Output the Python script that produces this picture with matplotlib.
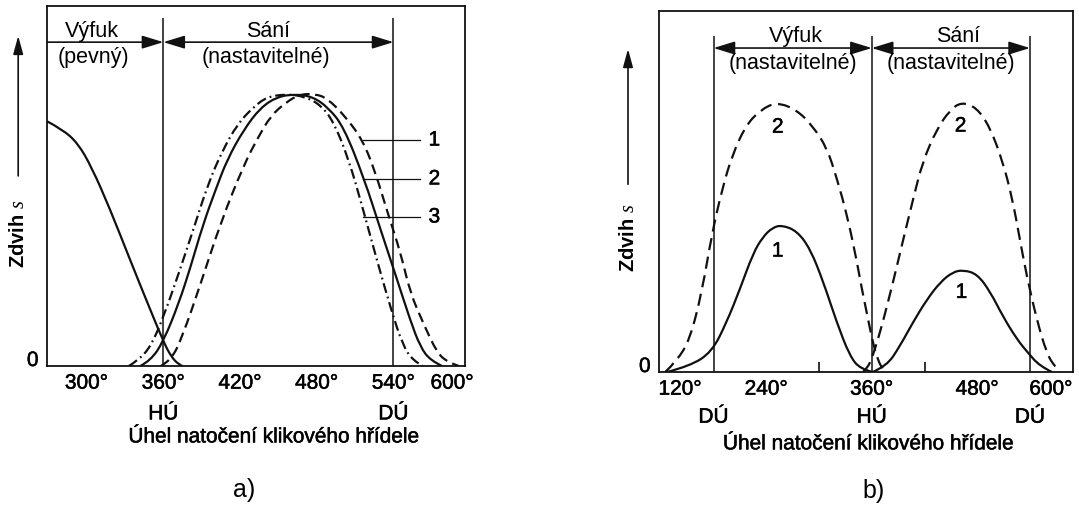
import matplotlib.pyplot as plt
import matplotlib.patheffects as pe
from matplotlib.path import Path
from matplotlib.patches import PathPatch
from matplotlib.transforms import blended_transform_factory

plt.rcParams['font.family'] = ['Liberation Sans', 'DejaVu Sans']
plt.rcParams['mathtext.fontset'] = 'custom'
plt.rcParams['mathtext.it'] = 'Liberation Serif:italic'

# --- a) výfuk pevný, sání nastavitelné (úhel ve stupních, zdvih relativně) ---
a_exh_deg = [269, 281, 293, 304, 318, 334, 346, 360, 366, 372, 375]
a_exh_s = [0.90, 0.87, 0.82, 0.73, 0.58, 0.39, 0.25, 0.09, 0.035, 0.005, 0]

a1_deg = [358, 366, 375, 389, 405, 423, 434, 444, 456, 467, 479, 488, 502, 516, 526, 535, 546, 553, 564, 574, 582, 591]
a1_s = [0, 0.02, 0.11, 0.30, 0.53, 0.74, 0.84, 0.92, 0.97, 1.0, 1.0, 0.985, 0.92, 0.83, 0.71, 0.57, 0.41, 0.27, 0.15, 0.05, 0.015, 0]
a2_deg = [342, 350, 360, 372, 381, 391, 401, 410, 423, 436, 449, 463, 477, 489, 501, 517, 530, 542, 553, 561, 569, 578]
a2_s = [0, 0.02, 0.09, 0.23, 0.36, 0.52, 0.65, 0.76, 0.87, 0.95, 0.99, 1.0, 0.99, 0.95, 0.88, 0.69, 0.50, 0.33, 0.17, 0.07, 0.02, 0]
a3_deg = [333, 340, 350, 360, 372, 384, 395, 406, 418, 430, 441, 457, 471, 483, 493, 505, 516, 527, 538, 547, 555, 563]
a3_s = [0, 0.02, 0.07, 0.18, 0.34, 0.51, 0.67, 0.79, 0.89, 0.95, 0.99, 1.0, 0.99, 0.96, 0.90, 0.76, 0.58, 0.39, 0.21, 0.08, 0.02, 0]

a_tick_pos = [300, 360, 420, 480, 540, 586]
a_tick_lbl = ['300°', '360°', '420°', '480°', '540°', '600°']
a_minor = [300, 420, 480]
a_marks = [360, 540]
a_mark_lbl = ['HÚ', 'DÚ']
a_curve_lbl = ['1', '2', '3']
a_curve_lbl_s = [0.831, 0.688, 0.548]

# --- b) výfuk i sání nastavitelné ---
b1_exh_deg = [127, 153, 178, 195, 210, 225, 236, 247, 258, 275, 290, 305, 320, 335, 347, 361]
b1_exh_s = [0, 0.022, 0.074, 0.185, 0.307, 0.44, 0.50, 0.535, 0.544, 0.522, 0.456, 0.333, 0.185, 0.059, 0.011, 0]
b1_int_deg = [361, 377, 392, 407, 423, 438, 452, 464, 480, 495, 509, 525, 537, 551, 565]
b1_int_s = [0, 0.022, 0.096, 0.185, 0.27, 0.333, 0.37, 0.378, 0.363, 0.296, 0.207, 0.122, 0.074, 0.022, 0]
b2_exh_deg = [125, 138, 153, 167, 178, 190, 201, 216, 233, 252, 275, 293, 309, 320, 332, 343, 348, 353, 358, 362, 367, 372, 377]
b2_exh_s = [0, 0.04, 0.12, 0.30, 0.51, 0.68, 0.80, 0.91, 0.97, 1.0, 0.97, 0.91, 0.83, 0.72, 0.58, 0.41, 0.32, 0.24, 0.16, 0.10, 0.045, 0.012, 0]
b2_int_deg = [350, 355, 360, 366, 373, 384, 395, 407, 418, 434, 449, 462, 479, 494, 509, 520, 528, 536, 548, 559, 567, 574]
b2_int_s = [0, 0.015, 0.05, 0.11, 0.19, 0.33, 0.48, 0.64, 0.78, 0.90, 0.97, 1.0, 0.98, 0.91, 0.78, 0.64, 0.50, 0.36, 0.19, 0.07, 0.025, 0]

b_tick_pos = [142, 240, 360, 480, 564]
b_tick_lbl = ['120°', '240°', '360°', '480°', '600°']
b_minor = [240, 300, 420, 480]
b_marks = [180, 360, 540]
b_mark_lbl = ['DÚ', 'HÚ', 'DÚ']
b_curve_lbl = ['2', '1', '2', '1']
b_curve_lbl_x = [253, 253, 461, 462]
b_curve_lbl_s = [0.907, 0.448, 0.911, 0.295]

k = '#111111'
fs = 15
fs_top = 15.5
heavy = [pe.withStroke(linewidth=0.4, foreground=k)]
dash_a = (0, (4.5, 2.5))
dash_b = (0, (5.5, 3))
dashdot = (0, (4.5, 1.8, 0.8, 1.8))

fig = plt.figure(figsize=(10.79, 5.06), dpi=100)
fig.patch.set_facecolor('white')


def curve(ax, xs, ys, ls='-'):
    # hladká křivka (kvadratické Bézierovy úseky) přes odečtené body
    v = [(xs[0], ys[0])]
    c = [Path.MOVETO]
    n = len(xs)
    for i in range(1, n - 1):
        if i < n - 2:
            end = ((xs[i] + xs[i + 1]) / 2, (ys[i] + ys[i + 1]) / 2)
        else:
            end = (xs[i + 1], ys[i + 1])
        v += [(xs[i], ys[i]), end]
        c += [Path.CURVE3, Path.CURVE3]
    ax.add_patch(PathPatch(Path(v, c), fill=False, ec=k, lw=1.6, linestyle=ls,
                           capstyle='butt', transform=ax.transData))


def setup(ax, xlim, ylim, tick_pos, tick_lbl, minor):
    ax.set_xlim(*xlim)
    ax.set_ylim(*ylim)
    ax.set_xticks(tick_pos)
    ax.set_xticklabels(tick_lbl, fontsize=fs)
    for t in ax.get_xticklabels():
        t.set_path_effects(heavy)
    ax.set_xticks(minor, minor=True)
    ax.tick_params(axis='x', which='major', length=0, pad=5.5)
    ax.tick_params(axis='x', which='minor', direction='in', length=7, width=1.2, color=k)
    ax.set_yticks([])
    for sp in ax.spines.values():
        sp.set_linewidth(1.3)
        sp.set_color(k)
    ax.text(-0.02, 0, '0', transform=blended_transform_factory(ax.transAxes, ax.transData),
            ha='right', va='baseline', fontsize=fs, path_effects=heavy)


def side_label(ax, xf, y0, y1, ytxt):
    ax.annotate('', xy=(xf, y1), xytext=(xf, y0), xycoords='axes fraction',
                arrowprops=dict(arrowstyle='-|>,head_length=1.1,head_width=0.3', color=k,
                                lw=1.2, mutation_scale=10, shrinkA=0, shrinkB=0),
                annotation_clip=False)
    ax.text(xf, ytxt, r'Zdvih $\mathit{s}$', transform=ax.transAxes, rotation=90,
            ha='center', va='center', fontsize=14.5, fontweight='bold')


def span_arrow(ax, x0, x1, y, style):
    ax.annotate('', xy=(x1, y), xytext=(x0, y),
                arrowprops=dict(arrowstyle=style + ',head_length=1.3,head_width=0.4', color=k,
                                lw=1.2, mutation_scale=10, shrinkA=0, shrinkB=0),
                annotation_clip=False)


# ---------- a) ----------
ax = fig.add_axes([0.0436, 0.2747, 0.3874, 0.7115])
setup(ax, (269, 596), (0, 1.324), a_tick_pos, a_tick_lbl, a_minor)
ax.vlines(a_marks, 0, 1.28, color=k, lw=1.1)
curve(ax, a_exh_deg, a_exh_s)
curve(ax, a1_deg, a1_s, dash_a)
curve(ax, a2_deg, a2_s)
curve(ax, a3_deg, a3_s, dashdot)

for lbl, s in zip(a_curve_lbl, a_curve_lbl_s):
    ax.plot([516, 561], [s, s], color=k, lw=0.9)
    ax.text(572, s, lbl, ha='center', va='center', fontsize=fs, path_effects=heavy)

span_arrow(ax, 269, a_marks[0], 1.191, '-|>')
span_arrow(ax, a_marks[0], a_marks[1], 1.191, '<|-|>')
ax.text(304, 1.235, 'Výfuk', ha='center', va='center', fontsize=fs_top)
ax.text(305, 1.138, '(pevný)', ha='center', va='center', fontsize=fs_top)
ax.text(442, 1.235, 'Sání', ha='center', va='center', fontsize=fs_top)
ax.text(440, 1.138, '(nastavitelné)', ha='center', va='center', fontsize=fs_top)

tr = blended_transform_factory(ax.transData, ax.transAxes)
for x, lbl in zip(a_marks, a_mark_lbl):
    ax.text(x, -0.133, lbl, transform=tr, ha='center', va='center', fontsize=fs,
            path_effects=heavy)
ax.text(447, -0.197, 'Úhel natočení klikového hřídele', transform=tr,
        ha='center', va='center', fontsize=fs, path_effects=heavy)
ax.text(423, -0.342, 'a)', transform=tr, ha='center', va='center', fontsize=18)
side_label(ax, -0.069, 0.528, 0.917, 0.369)

# ---------- b) ----------
bx = fig.add_axes([0.6108, 0.2628, 0.3837, 0.7134])
setup(bx, (118, 589), (0, 1.337), b_tick_pos, b_tick_lbl, b_minor)
bx.vlines(b_marks, 0, 1.244, color=k, lw=1.1)
curve(bx, b1_exh_deg, b1_exh_s)
curve(bx, b1_int_deg, b1_int_s)
curve(bx, b2_exh_deg, b2_exh_s, dash_b)
curve(bx, b2_int_deg, b2_int_s, dash_b)

for lbl, x, s in zip(b_curve_lbl, b_curve_lbl_x, b_curve_lbl_s):
    bx.text(x, s, lbl, ha='center', va='center', fontsize=fs, path_effects=heavy)

span_arrow(bx, b_marks[0], b_marks[1], 1.2, '<|-|>')
span_arrow(bx, b_marks[1], b_marks[2], 1.2, '<|-|>')
bx.text(274, 1.248, 'Výfuk', ha='center', va='center', fontsize=fs_top)
bx.text(270, 1.146, '(nastavitelné)', ha='center', va='center', fontsize=fs_top)
bx.text(458, 1.248, 'Sání', ha='center', va='center', fontsize=fs_top)
bx.text(450, 1.146, '(nastavitelné)', ha='center', va='center', fontsize=fs_top)

tr = blended_transform_factory(bx.transData, bx.transAxes)
for x, lbl in zip(b_marks, b_mark_lbl):
    bx.text(x, -0.125, lbl, transform=tr, ha='center', va='center', fontsize=fs,
            path_effects=heavy)
bx.text(357, -0.199, 'Úhel natočení klikového hřídele', transform=tr,
        ha='center', va='center', fontsize=fs, path_effects=heavy)
bx.text(362, -0.327, 'b)', transform=tr, ha='center', va='center', fontsize=18)
side_label(bx, -0.075, 0.52, 0.895, 0.374)

fig.savefig('out.png', dpi=100, facecolor='white')
